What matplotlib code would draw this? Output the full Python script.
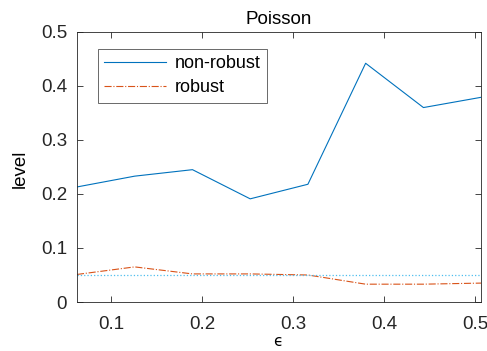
import matplotlib
matplotlib.use("Agg")
import matplotlib.pyplot as plt

plt.rcParams['font.family'] = ['Liberation Sans', 'DejaVu Sans']

eps = [0.0626, 0.1260, 0.1895, 0.2529, 0.3163, 0.3797, 0.4432, 0.5066]
non_robust = [0.213, 0.233, 0.245, 0.191, 0.218, 0.442, 0.360, 0.379]
robust = [0.051, 0.065, 0.052, 0.052, 0.050, 0.033, 0.033, 0.035]
nominal = 0.05

fig = plt.figure(figsize=(4.87, 3.51), dpi=100)
ax = fig.add_axes([0.158, 0.1396, 0.830, 0.7694])

ax.plot(eps, non_robust, color='#0072BD', lw=0.8, label='non-robust')
ax.plot(eps, robust, color='#D95319', lw=0.8, ls='-.', label='robust')
ax.axhline(nominal, color='#4DBEEE', lw=0.9, ls=':')

ax.set_xlim(eps[0], eps[-1])
ax.set_ylim(0, 0.5)
ax.set_xticks([0.1, 0.2, 0.3, 0.4, 0.5])
ax.set_xticklabels(['0.1', '0.2', '0.3', '0.4', '0.5'])
ax.set_yticks([0, 0.1, 0.2, 0.3, 0.4, 0.5])
ax.set_yticklabels(['0', '0.1', '0.2', '0.3', '0.4', '0.5'])
ax.tick_params(direction='in', top=True, right=True, labelsize=13.5,
               colors='#262626', length=4, width=0.6)
ax.tick_params(axis='x', pad=10)
ax.tick_params(axis='y', pad=7)
for s in ax.spines.values():
    s.set_color('#262626')
    s.set_linewidth(0.6)

ax.set_title('Poisson', fontsize=13.5, pad=6)
ax.set_xlabel('\u03f5', fontsize=11, family=['DejaVu Sans'])
ax.xaxis.label.set_va('baseline')
ax.xaxis.set_label_coords(0.496, -0.162)
ax.set_ylabel('level', fontsize=13.5)
ax.yaxis.set_label_coords(-0.119, 0.494)

leg = ax.legend(loc='upper left', bbox_to_anchor=(0.052, 0.937), fontsize=13,
                frameon=True, fancybox=False, edgecolor='#262626',
                handlelength=3.4, borderpad=0.35, labelspacing=0.4,
                handletextpad=0.5, borderaxespad=0)
leg.get_frame().set_linewidth(0.6)

fig.savefig('out.png', dpi=100)
